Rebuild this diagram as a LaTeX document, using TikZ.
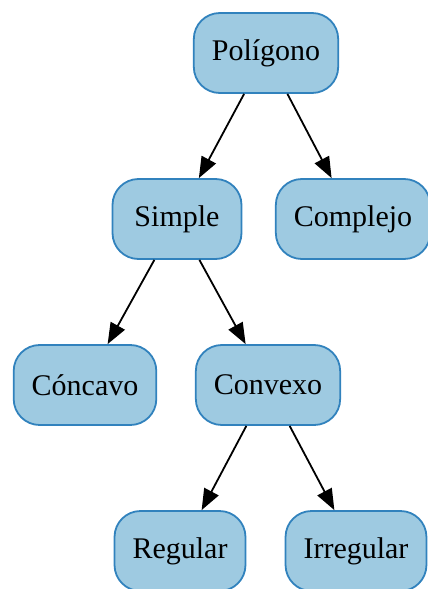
\documentclass[tikz,border=0pt]{standalone}
\usepackage{fontspec}
\setmainfont{Liberation Serif}
\usetikzlibrary{arrows.meta}
\definecolor{boxfill}{HTML}{9ECAE1}
\definecolor{boxline}{HTML}{3182BD}
\begin{document}
\begin{tikzpicture}[x=1pt,y=-1pt,
  treebox/.style={draw=boxline, fill=boxfill, line width=1.8pt,
    rounded corners=26pt, minimum height=80pt, minimum width=129pt,
    inner xsep=18pt, font=\fontsize{30}{36}\selectfont},
  link/.style={line width=1.8pt, -{Triangle[length=21pt,width=16pt]}}]
\useasboundingbox (0,0) rectangle (428,589);
\node[treebox] (pol) at (266,53) {Polígono};
\node[treebox] (sim) at (177,219) {Simple};
\node[treebox] (com) at (353,219) {Complejo};
\node[treebox] (conc) at (85,385) {Cóncavo};
\node[treebox] (conv) at (268,385) {Convexo};
\node[treebox] (reg) at (180,551) {Regular};
\node[treebox] (irr) at (356,551) {Irregular};
\draw[link] (pol) -- (sim);
\draw[link] (pol) -- (com);
\draw[link] (sim) -- (conc);
\draw[link] (sim) -- (conv);
\draw[link] (conv) -- (reg);
\draw[link] (conv) -- (irr);
\end{tikzpicture}
\end{document}
